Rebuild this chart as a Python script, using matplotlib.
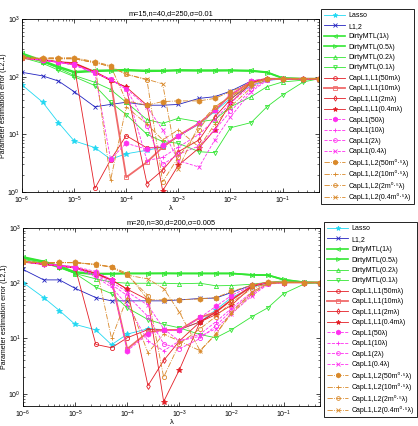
import matplotlib
matplotlib.use("Agg")
import matplotlib.pyplot as plt

plt.rcParams["font.family"] = ["Liberation Sans", "DejaVu Sans"]
plt.rcParams["mathtext.fontset"] = "custom"
plt.rcParams["mathtext.rm"] = "Liberation Sans"
plt.rcParams["mathtext.it"] = "Liberation Sans:italic"

# regularisation path (x axis)
lam = [1e-6, 2.5e-6, 5e-6, 1e-5, 2.5e-5, 5e-5, 1e-4, 2.5e-4, 5e-4,
       1e-3, 2.5e-3, 5e-3, 1e-2, 2.5e-2, 5e-2, 1e-1, 2.5e-1, 5e-1]

labels = ["Lasso", "L1,2",
          "DirtyMTL(1λ)", "DirtyMTL(0.5λ)", "DirtyMTL(0.2λ)", "DirtyMTL(0.1λ)",
          "CapL1,L1(50mλ)", "CapL1,L1(10mλ)", "CapL1,L1(2mλ)", "CapL1,L1(0.4mλ)",
          "CapL1(50λ)", "CapL1(10λ)", "CapL1(2λ)", "CapL1(0.4λ)",
          "CapL1,L2(50m⁰·⁵λ)", "CapL1,L2(10m⁰·⁵λ)",
          "CapL1,L2(2m⁰·⁵λ)", "CapL1,L2(0.4m⁰·⁵λ)"]

titles = ["m=15,n=40,d=250,σ=0.01", "m=20,n=30,d=200,σ=0.005"]

# ---- top panel: m=15, n=40, d=250 ----
lasso_top = [72, 36, 16, 7.7, 5.9, 3.7, 4.6, 5.3, 6.0, 9.3, 15, 25, 42, 70, 86, 91, 92, 92]
l12_top = [119, 103, 84, 55, 30, 33, 36, 32, 32, 33, 42, 45, 56, 84, 92, 92, 92, 92]
dirty1_top = [255, 190, 150, 122, 128, 130, 132, 128, 128, 131, 130, 130, 130, 128, 120, 95, 92, 92]
dirty05_top = [240, 185, 145, 118, 124, 126, 128, 124, 125, 127, 126, 126, 127, 125, 118, 94, 92, 92]
dirty02_top = [225, 180, 140, 105, 80, 60, 36, 18, 15.5, 19, 16.5, 18, 30, 45, 67, 81, 87, 92]
dirty01_top = [215, 170, 130, 100, 70, 36, 22, 10, 7.5, 7, 5, 4.8, 13, 16, 30, 48, 81, 92]
cl1l1_50_top = [215, 198, 180, 160, 1.15, 3.6, 9.5, 5.8, 6.0, 9.3, 15.5, 26, 48, 82, 92, 92, 92, 92]
cl1l1_10_top = [210, 195, 180, 171, 121, 87, 1.8, 3.3, 6, 9.5, 15.5, 26, 48, 82, 92, 92, 92, 92]
cl1l1_2_top = [210, 195, 180, 171, 121, 87, 66, 1.4, 2.4, 5, 8, 20, 40, 80, 92, 92, 92, 92]
cl1l1_04_top = [210, 195, 180, 171, 121, 87, 66, 32, 1.05, 2.9, 5.8, 12, 35, 78, 92, 92, 92, 92]
cl1_50_top = [215, 195, 180, 163, 119, 3.7, 7.0, 5.5, 6.5, 9.3, 15.5, 26, 48, 84, 92, 92, 92, 92]
cl1_10_top = [212, 193, 178, 160, 115, 90, 60, 3.5, 4, 6, 10, 18, 35, 70, 90, 92, 92, 92]
cl1_2_top = [212, 193, 178, 160, 115, 90, 62, 14, 3.0, 4.5, 6.3, 12, 25, 60, 88, 92, 92, 92]
cl1_04_top = [212, 193, 178, 160, 115, 90, 62, 30, 12, 3.5, 2.7, 8, 20, 55, 86, 92, 92, 92]
cl1l2_50_top = [222, 213, 213, 213, 182, 155, 38, 32, 37, 38, 38, 42, 55, 78, 92, 92, 92, 92]
cl1l2_10_top = [212, 205, 205, 205, 175, 1.6, 30, 15, 8, 12, 6, 15, 30, 65, 90, 92, 92, 92]
cl1l2_2_top = [212, 205, 205, 205, 175, 150, 110, 88, 1.5, 4, 12, 30, 45, 75, 91, 92, 92, 92]
cl1l2_04_top = [212, 205, 205, 205, 175, 150, 110, 90, 75, 2.5, 15, 30, 45, 75, 91, 92, 92, 92]

# ---- bottom panel: m=20, n=30, d=200 ----
lasso_bot = [103, 55, 32, 18, 14.3, 7.7, 12, 15, 14.5, 14.5, 20, 33, 55, 85, 100, 103, 103, 103]
l12_bot = [178, 115, 115, 81, 55, 48, 48, 48, 48, 50, 53, 54, 68, 93, 102, 103, 103, 103]
dirty1_bot = [300, 250, 205, 160, 150, 150, 151, 151, 152, 151, 151, 151, 151, 141, 141, 115, 104, 103]
dirty05_bot = [290, 245, 200, 155, 145, 148, 150, 150, 150, 150, 150, 150, 150, 142, 140, 117, 104, 103]
dirty02_bot = [280, 240, 195, 150, 120, 105, 100, 100, 100, 98, 100, 90, 91, 96, 104, 110, 104, 103]
dirty01_bot = [270, 230, 190, 150, 85, 65, 36, 22, 18, 15.6, 11.8, 10.3, 14.4, 25, 36, 65, 97, 103]
cl1l1_50_bot = [250, 225, 210, 195, 7.8, 6.8, 10.3, 14.5, 14.4, 14.5, 20, 30, 50, 90, 103, 103, 103, 103]
cl1l1_10_bot = [245, 222, 208, 192, 150, 115, 6.5, 13, 14.3, 14.3, 24, 30, 50, 90, 103, 103, 103, 103]
cl1l1_2_bot = [245, 220, 205, 190, 150, 115, 78, 1.4, 4.0, 9, 20, 30, 50, 90, 103, 103, 103, 103]
cl1l1_04_bot = [245, 220, 205, 190, 150, 115, 78, 50, 0.72, 2.7, 20, 27, 40, 88, 103, 103, 103, 103]
cl1_50_bot = [250, 225, 212, 200, 163, 115, 6, 12, 14, 14, 24, 38, 60, 92, 103, 103, 103, 103]
cl1_10_bot = [245, 222, 208, 190, 130, 85, 40, 9, 6, 9, 12, 20, 35, 70, 100, 103, 103, 103]
cl1_2_bot = [245, 222, 208, 190, 140, 95, 60, 25, 8, 6.5, 10, 17, 32, 65, 98, 103, 103, 103]
cl1_04_bot = [245, 222, 208, 190, 145, 105, 70, 40, 15, 9, 11, 15, 28, 60, 95, 103, 103, 103]
cl1l2_50_bot = [250, 236, 238, 238, 220, 200, 150, 50, 50, 50, 52, 55, 71, 93, 105, 105, 103, 103]
cl1l2_10_bot = [245, 232, 236, 236, 218, 10, 55, 5.5, 12, 9, 6, 12, 28, 65, 98, 103, 103, 103]
cl1l2_2_bot = [245, 232, 236, 236, 218, 195, 140, 60, 2.0, 8, 15, 25, 45, 80, 100, 103, 103, 103]
cl1l2_04_bot = [245, 232, 236, 236, 218, 195, 140, 120, 80, 30, 6, 12, 30, 70, 100, 103, 103, 103]

series_top = [lasso_top, l12_top, dirty1_top, dirty05_top, dirty02_top, dirty01_top,
              cl1l1_50_top, cl1l1_10_top, cl1l1_2_top, cl1l1_04_top,
              cl1_50_top, cl1_10_top, cl1_2_top, cl1_04_top,
              cl1l2_50_top, cl1l2_10_top, cl1l2_2_top, cl1l2_04_top]
series_bot = [lasso_bot, l12_bot, dirty1_bot, dirty05_bot, dirty02_bot, dirty01_bot,
              cl1l1_50_bot, cl1l1_10_bot, cl1l1_2_bot, cl1l1_04_bot,
              cl1_50_bot, cl1_10_bot, cl1_2_bot, cl1_04_bot,
              cl1l2_50_bot, cl1l2_10_bot, cl1l2_2_bot, cl1l2_04_bot]

CYAN, BLUE, GREEN = "#22d8f2", "#2222c0", "#33e633"
RED, PINK, MAGENTA, ORANGE = "#e41e26", "#f06a6a", "#ff2ff0", "#d9892a"

# (color, linestyle, marker, filled, linewidth)
styles = [
    (CYAN, "-", "*", True, 0.6),
    (BLUE, "-", "x", False, 0.6),
    (GREEN, "-", "<", False, 1.2),
    (GREEN, "-", ">", False, 1.2),
    (GREEN, "-", "^", False, 0.6),
    (GREEN, "-", "v", False, 0.6),
    (RED, "-", "o", False, 0.6),
    (PINK, "-", "s", False, 1.3),
    (RED, "-", "d", False, 0.6),
    (RED, "-", "*", True, 0.6),
    (MAGENTA, "--", "h", True, 0.6),
    (MAGENTA, "--", "+", False, 0.6),
    (MAGENTA, "--", "o", False, 0.6),
    (MAGENTA, "--", "x", False, 0.6),
    (ORANGE, "-.", "h", True, 0.6),
    (ORANGE, "-.", "+", False, 0.6),
    (ORANGE, "-.", "o", False, 0.6),
    (ORANGE, "-.", "x", False, 0.6),
]

FS = 5

fig = plt.figure(figsize=(4.18, 4.26), dpi=100)
ax_top = fig.add_axes([22 / 418, 1 - 192 / 426, 297 / 418, 173 / 426])
ax_bot = fig.add_axes([23 / 418, 1 - 406 / 426, 297 / 418, 178 / 426])

panels = [(ax_top, series_top, (1, 1000), (321 / 418, 1 - 9 / 426)),
          (ax_bot, series_bot, (0.6, 1000), (324 / 418, 1 - 222 / 426))]

for (ax, series, ylim, leg_pos), title in zip(panels, titles):
    for values, label, (color, ls, marker, filled, lw) in zip(series, labels, styles):
        ms = 3.8 if marker in ("*", "h") else 3.0
        ax.plot(lam, values, color=color, linestyle=ls, linewidth=lw,
                marker=marker, markersize=ms, markeredgewidth=0.6,
                markerfacecolor=color if filled else "none",
                markeredgecolor=color, label=label)
    ax.set_xscale("log")
    ax.set_yscale("log")
    ax.set_xlim(lam[0], lam[-1])
    ax.set_ylim(*ylim)
    ax.set_xticks([1e-6, 1e-5, 1e-4, 1e-3, 1e-2, 1e-1])
    ax.set_yticks([1, 10, 100, 1000])
    ax.tick_params(which="both", direction="in", top=True, right=True,
                   labelsize=FS)
    ax.tick_params(axis="x", pad=2)
    ax.tick_params(axis="y", pad=1.5)
    ax.tick_params(which="major", length=3, width=0.5)
    ax.tick_params(which="minor", length=1.6, width=0.4)
    for spine in ax.spines.values():
        spine.set_linewidth(0.6)
    ax.set_title(title, fontsize=FS + 0.3, pad=3)
    ax.set_xlabel("λ", fontsize=FS + 0.5, labelpad=-1)
    ax.set_ylabel("Parameter estimation error (L2,1)", fontsize=FS)
    ax.yaxis.set_label_coords(-0.052, 0.5)
    leg = ax.legend(loc="upper left", bbox_to_anchor=leg_pos,
                    bbox_transform=fig.transFigure, fontsize=FS,
                    frameon=True, fancybox=False, edgecolor="black",
                    framealpha=1, handlelength=3.0, handletextpad=0.5,
                    labelspacing=0.5, borderpad=0.45, borderaxespad=0,
                    markerscale=0.9)
    leg.get_frame().set_linewidth(0.6)

fig.savefig("out.png", dpi=100)
